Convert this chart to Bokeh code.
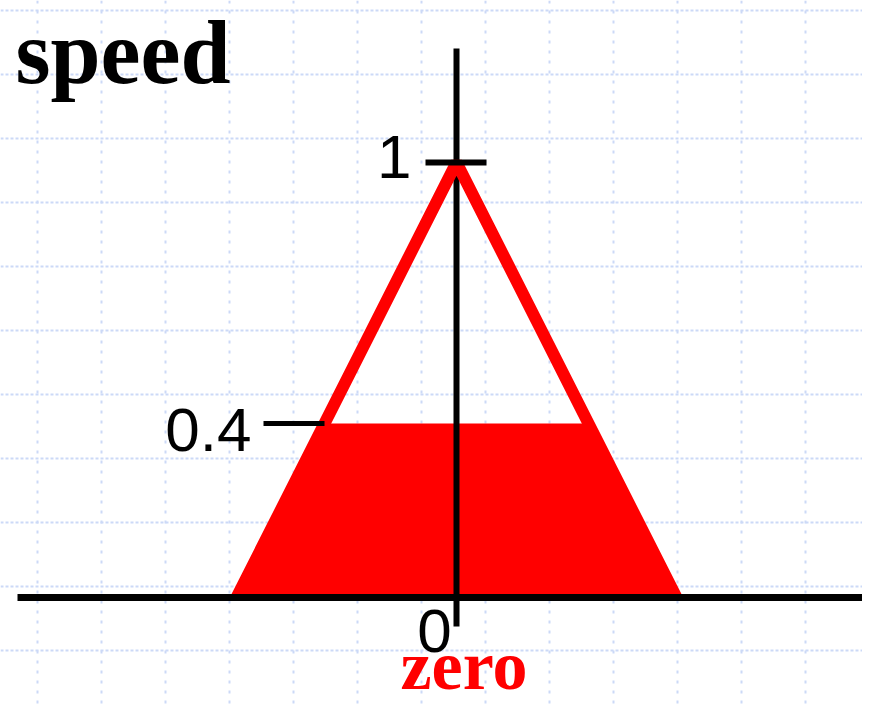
from bokeh.plotting import figure
from bokeh.models import Range1d, Span, ColumnDataSource
from bokeh.core.properties import value
from bokeh.embed import file_html
from bokeh.resources import INLINE

# ---- data ----
universe = [-1.0, 0.0, 1.0]        # left foot, peak, right foot of the "zero" set
membership = [0.0, 1.0, 0.0]
clip_level = 0.4                   # firing strength (clipped height)
tick_values = [1.0, 0.4]
tick_labels = ["1", "0.4"]
origin_label = "0"
set_name = "zero"
var_name = "speed"

# ---- layout / style (pixel geometry of the page) ----
W, H = 862, 707
PX_X = 220.0    # pixels per x unit
PX_Y = 435.0    # pixels per membership unit
X0, Y0 = 456.0, 597.0   # pixel position of the origin inside the figure
BASE = 0.355            # alphabetic-baseline correction (fraction of font size)


def dx(px):
    return (px - X0) / PX_X


def dy(py):
    return (Y0 - py) / PX_Y


p = figure(width=W, height=H, output_backend="svg", toolbar_location=None,
           x_range=Range1d(dx(0), dx(W)), y_range=Range1d(dy(H), dy(0)),
           x_axis_type=None, y_axis_type=None, min_border=0)
p.outline_line_color = None
p.xgrid.visible = False
p.ygrid.visible = False
p.background_fill_color = "white"
p.border_fill_color = "white"

GRID = "#ccd9f7"
for k in range(14):
    p.add_layout(Span(location=dx(37 + 64 * k), dimension="height", level="underlay",
                      line_color=GRID, line_width=2, line_dash="3 7"))
for k in range(12):
    p.add_layout(Span(location=dy(10 + 64 * k), dimension="width", level="underlay",
                      line_color=GRID, line_width=2, line_dash="3 2"))

a, b, c = universe
x_left = a + clip_level * (b - a)
x_right = c - clip_level * (c - b)

# clipped (filled) area
p.patch([a, x_left, x_right, c], [0, clip_level, clip_level, 0],
        fill_color="#ff0000", line_color=None)

# vertical axis
p.segment(x0=[b], y0=[dy(626)], x1=[b], y1=[dy(48)], line_color="black", line_width=6)

# triangle outline
p.line(universe, membership, line_color="#ff0000", line_width=12, line_join="bevel")

# ticks
p.segment(x0=[b - 31 / PX_X], y0=[tick_values[0]], x1=[b + 30 / PX_X], y1=[tick_values[0]],
          line_color="black", line_width=6)
p.segment(x0=[x_left - 61 / PX_X], y0=[tick_values[1]], x1=[x_left], y1=[tick_values[1]],
          line_color="black", line_width=5)

# horizontal axis
p.segment(x0=[dx(17)], y0=[0], x1=[dx(W + 20)], y1=[0], line_color="black", line_width=7)

DIG = 62
lab = ColumnDataSource(dict(
    x=[b - 45 / PX_X, x_left - 73 / PX_X, b - 22 / PX_X],
    y=[tick_values[0] - (179 - 162 - BASE * DIG) / PX_Y,
       tick_values[1] - (452 - 423 - BASE * DIG) / PX_Y,
       0 - (653 - 597 - BASE * DIG) / PX_Y],
    t=tick_labels + [origin_label],
    align=["right", "right", "center"],
))
p.text(x="x", y="y", text="t", source=lab, text_font=value("Liberation Sans"),
       text_font_size=f"{DIG}px", text_align="align", text_baseline="alphabetic",
       text_color="black")

SP = 90
p.text(x=[dx(15)], y=[dy(84 - BASE * SP)], text=[var_name], text_font=value("Liberation Serif"),
       text_font_style="bold", text_font_size=f"{SP}px", text_align="left",
       text_baseline="alphabetic", text_color="black")

ZS = 70
p.text(x=[dx(463.5)], y=[dy(690 - BASE * ZS)], text=[set_name], text_font=value("Liberation Serif"),
       text_font_style="bold", text_font_size=f"{ZS}px", text_align="center",
       text_baseline="alphabetic", text_color="#ff0000")

open("out.html", "w").write(file_html(p, INLINE))
